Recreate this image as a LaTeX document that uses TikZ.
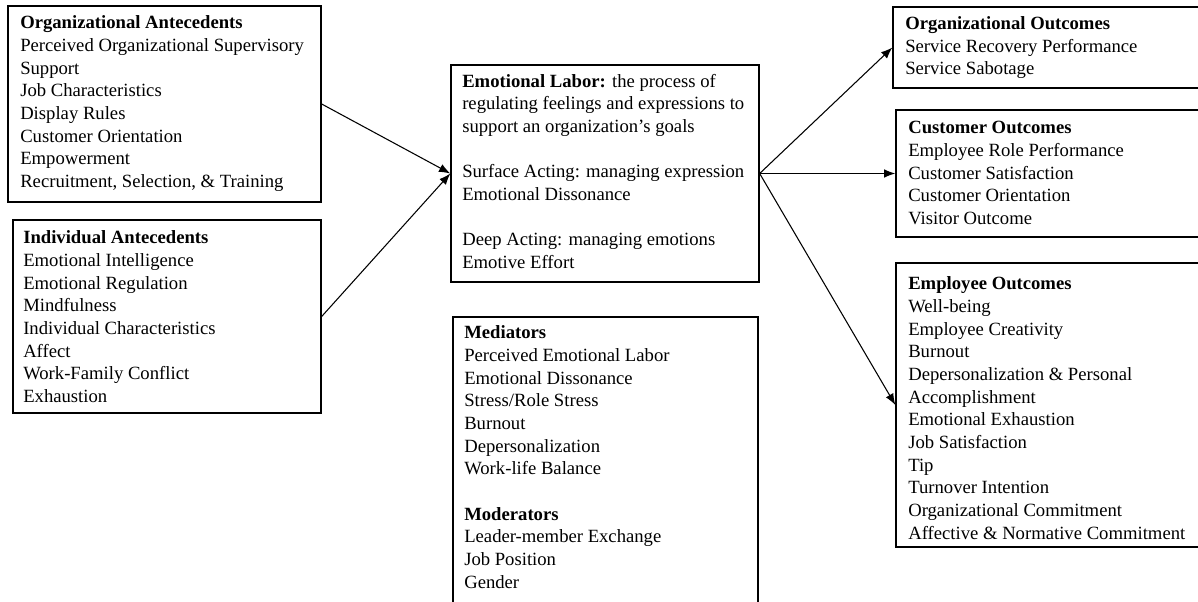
\documentclass[tikz,border=0pt]{standalone}
\usepackage{fontspec}
\setmainfont{Liberation Serif}
\usetikzlibrary{fit,arrows.meta}
\begin{document}
\begin{tikzpicture}[x=0.75pt,y=-0.75pt,
  boxst/.style={draw=black, line width=1pt, inner sep=0pt, rectangle},
  txt/.style={anchor=base west, inner sep=0pt, align=left, font=\fontsize{14pt}{17pt}\selectfont},
  conn/.style={line width=0.8pt, -{Latex[length=8.5pt,width=6.5pt]}}]
\useasboundingbox (0,0) rectangle (1198,602);
\clip (0,0) rectangle (1198,602);
% boxes
\node[boxst, fit={(8,6) (321,202)}] (org) {};
\node[boxst, fit={(13,220) (321,413)}] (ind) {};
\node[boxst, fit={(451,65) (759,282)}] (emo) {};
\node[boxst, fit={(453,317) (758,620)}] (med) {};
\node[boxst, fit={(893,7) (1215,88)}] (orgout) {};
\node[boxst, fit={(896,110) (1215,237)}] (cust) {};
\node[boxst, fit={(896,263) (1215,547)}] (empl) {};
% texts (anchored at the baseline of their last line)
\node[txt] (orgt) at (20,187.5) {\textbf{Organizational Antecedents}\\Perceived Organizational Supervisory\\Support\\Job Characteristics\\Display Rules\\Customer Orientation\\Empowerment\\Recruitment, Selection, \& Training};
\node[txt] (indt) at (23,402.5) {\textbf{Individual Antecedents}\\Emotional Intelligence\\Emotional Regulation\\Mindfulness\\Individual Characteristics\\Affect\\Work-Family Conflict\\Exhaustion};
\node[txt] (emot) at (462,268.5) {\textbf{Emotional Labor:} the process of\\regulating feelings and expressions to\\support an organization’s goals\\[17pt]Surface Acting: managing expression\\Emotional Dissonance\\[17pt]Deep Acting: managing emotions\\Emotive Effort};
\node[txt] (medt) at (464,588) {\textbf{Mediators}\\Perceived Emotional Labor\\Emotional Dissonance\\Stress/Role Stress\\Burnout\\Depersonalization\\Work-life Balance\\[17pt]\textbf{Moderators}\\Leader-member Exchange\\Job Position\\Gender};
\node[txt] (orgoutt) at (905,75) {\textbf{Organizational Outcomes}\\Service Recovery Performance\\Service Sabotage};
\node[txt] (custt) at (908,224.5) {\textbf{Customer Outcomes}\\Employee Role Performance\\Customer Satisfaction\\Customer Orientation\\Visitor Outcome};
\node[txt] (emplt) at (908,539) {\textbf{Employee Outcomes}\\Well-being\\Employee Creativity\\Burnout\\Depersonalization \& Personal\\Accomplishment\\Emotional Exhaustion\\Job Satisfaction\\Tip\\Turnover Intention\\Organizational Commitment\\Affective \& Normative Commitment};
% connectors
\draw[conn] (org.east) -- (emo.west);
\draw[conn] (ind.east) -- (emo.west);
\draw[conn] (emo.east) -- (orgout.west);
\draw[conn] (emo.east) -- (cust.west);
\draw[conn] (emo.east) -- (empl.west);
\end{tikzpicture}
\end{document}
